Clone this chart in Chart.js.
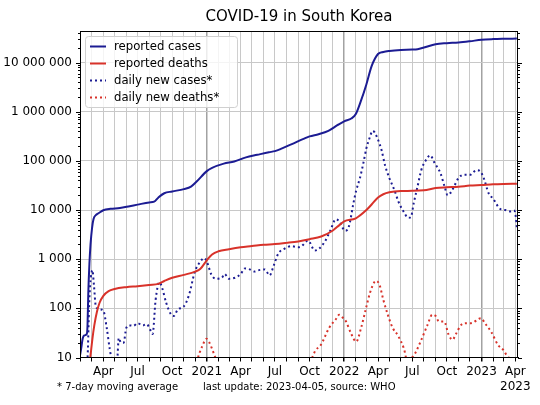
<!DOCTYPE html>
<html>
<head>
<meta charset="utf-8">
<title>COVID-19 in South Korea</title>
<script src="https://cdn.jsdelivr.net/npm/chart.js@4/dist/chart.umd.min.js"></script>
<style>
  html, body { margin: 0; padding: 0; background: #fff; }
</style>
</head>
<body>
<canvas id="covidChart" width="540" height="405"></canvas>
<script>
// values (cumulative + 7-day averages)
const caseDates = ['2020-01-30','2020-02-02','2020-02-06','2020-02-10','2020-02-17','2020-02-19','2020-02-21','2020-02-24','2020-02-27',
  '2020-03-02','2020-03-06','2020-03-12','2020-03-20','2020-04-01','2020-04-20','2020-05-15','2020-06-10','2020-07-01','2020-08-01',
  '2020-08-14','2020-08-25','2020-09-10','2020-10-01','2020-11-01','2020-11-20','2020-12-05',
  '2021-01-01','2021-01-15','2021-02-15','2021-03-15','2021-04-15','2021-05-15','2021-06-15','2021-07-01','2021-07-20','2021-08-15',
  '2021-09-15','2021-10-01','2021-10-25','2021-11-20','2021-12-15',
  '2022-01-01','2022-01-20','2022-02-01','2022-02-15','2022-03-01','2022-03-15','2022-04-01','2022-04-15','2022-05-01','2022-06-01',
  '2022-07-01','2022-07-15','2022-08-01','2022-09-01','2022-10-01','2022-11-01','2022-12-01',
  '2023-01-01','2023-02-01','2023-03-01','2023-04-05'];
const caseValues = [11, 15, 24, 28, 30, 46, 200, 800, 2000,
  4300, 6600, 7900, 8700, 9900, 10600, 11000, 12000, 12900, 14300,
  14800, 17900, 22000, 23900, 26700, 30000, 38000,
  62000, 72000, 88000, 97000, 118000, 133000, 150000, 158000, 180000, 220000,
  280000, 315000, 350000, 410000, 540000,
  640000, 730000, 900000, 1700000, 3600000, 8500000, 15000000, 16500000, 17300000, 18100000,
  18400000, 18800000, 20300000, 23700000, 24900000, 25700000, 27200000,
  29200000, 30100000, 30500000, 30800000];

const deathDates = ['2020-02-20','2020-02-24','2020-02-27','2020-03-03','2020-03-08','2020-03-15','2020-03-22','2020-04-01','2020-04-15',
  '2020-05-01','2020-06-01','2020-07-01','2020-08-01','2020-08-25','2020-09-10','2020-10-01','2020-11-01','2020-12-01','2020-12-15',
  '2021-01-01','2021-01-15','2021-02-01','2021-03-01','2021-04-01','2021-05-01','2021-06-01','2021-07-01','2021-08-01','2021-09-01',
  '2021-10-01','2021-11-01','2021-12-01','2021-12-20',
  '2022-01-01','2022-02-01','2022-03-01','2022-03-15','2022-04-01','2022-04-15','2022-05-01','2022-06-01','2022-07-01','2022-08-01',
  '2022-09-01','2022-10-01','2022-11-01','2022-12-01',
  '2023-01-01','2023-02-01','2023-03-01','2023-04-05'];
const deathValues = [2, 7, 11, 24, 45, 85, 130, 180, 225,
  248, 270, 283, 300, 315, 360, 420, 480, 560, 640,
  950, 1250, 1450, 1600, 1750, 1850, 1970, 2030, 2150, 2300,
  2550, 2900, 3800, 5000,
  5900, 6800, 10000, 13000, 18000, 21000, 23000, 24400, 24600, 25300,
  28000, 29000, 29800, 31500,
  32400, 33500, 34000, 34300];

const newCaseDates = ['2020-02-10','2020-02-16','2020-02-20','2020-02-23','2020-02-26','2020-03-01','2020-03-03','2020-03-07','2020-03-12',
  '2020-03-17','2020-03-24','2020-04-01','2020-04-10','2020-04-18','2020-04-25','2020-05-02','2020-05-08','2020-05-12','2020-05-18',
  '2020-05-25','2020-06-01','2020-06-10','2020-06-20','2020-07-01','2020-07-15','2020-07-25','2020-08-05','2020-08-10','2020-08-18',
  '2020-08-28','2020-09-05','2020-09-15','2020-09-28','2020-10-05','2020-10-16','2020-11-01','2020-11-15','2020-11-30','2020-12-15',
  '2020-12-25',
  '2021-01-01','2021-01-13','2021-01-25','2021-02-10','2021-02-17','2021-03-01','2021-03-17','2021-04-01','2021-04-12','2021-04-25',
  '2021-05-08','2021-05-20','2021-06-04','2021-06-17','2021-06-28','2021-07-10','2021-07-27','2021-08-14','2021-09-01','2021-09-10',
  '2021-09-27','2021-10-15','2021-10-25','2021-11-11','2021-11-25','2021-12-10','2021-12-20',
  '2022-01-03','2022-01-10','2022-01-16','2022-01-25','2022-02-02','2022-02-12','2022-02-21','2022-03-01','2022-03-10','2022-03-18',
  '2022-03-23','2022-04-01','2022-04-10','2022-04-20','2022-05-01','2022-05-15','2022-05-25','2022-06-09','2022-06-20','2022-06-27',
  '2022-07-05','2022-07-15','2022-07-25','2022-08-05','2022-08-18','2022-08-28','2022-09-14','2022-09-25','2022-10-03','2022-10-10',
  '2022-10-20','2022-11-01','2022-11-14','2022-12-01','2022-12-19','2022-12-28',
  '2023-01-06','2023-01-20','2023-02-01','2023-02-20','2023-03-05','2023-03-19','2023-03-28','2023-04-01','2023-04-05'];
const newCaseValues = [2, 3, 15, 100, 300, 550, 600, 300, 110,
  100, 95, 90, 40, 15, 8, 7, 9, 25, 20,
  20, 40, 45, 44, 50, 45, 48, 35, 30, 150,
  340, 250, 130, 75, 70, 95, 110, 190, 550, 900,
  1050,
  900, 490, 400, 420, 500, 400, 420, 500, 650, 620,
  560, 600, 620, 470, 750, 1300, 1650, 1850, 1750, 1850,
  2400, 1500, 1600, 2300, 3800, 6500, 5800,
  3800, 4000, 5500, 13000, 25000, 45000, 90000, 180000, 300000, 410000,
  380000, 270000, 170000, 80000, 45000, 25000, 15000, 9000, 7000, 7100,
  14000, 30000, 65000, 100000, 130000, 95000, 56000, 30000, 20000, 22000,
  30000, 45000, 52000, 52000, 65000, 62000,
  47000, 22000, 17000, 10500, 10000, 9400, 9800, 8500, 4400];

const newDeathDates = ['2020-03-01','2020-04-01','2020-05-01','2020-08-01','2020-09-10','2020-10-15','2020-11-15','2020-12-05','2020-12-12',
  '2020-12-20','2020-12-31',
  '2021-01-08','2021-01-18','2021-01-26','2021-02-10','2021-04-01','2021-06-01','2021-08-01','2021-08-20','2021-09-10','2021-10-04',
  '2021-10-17','2021-10-31','2021-11-22','2021-12-10','2021-12-19','2021-12-28',
  '2022-01-06','2022-01-20','2022-02-02','2022-02-15','2022-02-28','2022-03-10','2022-03-22','2022-03-28','2022-04-05','2022-04-15',
  '2022-04-27','2022-05-10','2022-05-24','2022-06-09','2022-06-17','2022-07-05','2022-07-23','2022-08-10','2022-08-23','2022-09-01',
  '2022-09-10','2022-09-24','2022-10-05','2022-10-16','2022-10-25','2022-11-08','2022-11-21','2022-12-04','2022-12-31',
  '2023-01-10','2023-01-27','2023-02-14','2023-03-01','2023-03-09','2023-03-23','2023-04-05'];
const newDeathValues = [2, 5, 1.5, 1, 3, 2, 3, 8, 12,
  17, 24,
  20, 13, 9, 5, 2, 2, 4, 10, 8, 9,
  14, 18, 40, 60, 74, 65,
  54, 30, 21, 40, 100, 200, 340, 360, 300, 150,
  74, 40, 28, 15, 9, 11, 21, 45, 74, 70,
  54, 54, 30, 23, 30, 46, 50, 50, 63,
  50, 33, 18, 14, 11, 9, 7];

const yDecades = [10, 100, 1000, 10000, 100000, 1000000, 10000000];
const monthNames = ['Jan','Feb','Mar','Apr','May','Jun','Jul','Aug','Sep','Oct','Nov','Dec'];

const FONT = 'DejaVu Sans';
const BLUE = '#1c1c93';
const RED = '#d8322a';

const EPOCH = Date.UTC(2020, 0, 1);
const dayNum = s => (Date.UTC(+s.slice(0, 4), +s.slice(5, 7) - 1, +s.slice(8, 10)) - EPOCH) / 86400000;
const dayDate = d => new Date(EPOCH + d * 86400000);
const toPoints = (dates, values) => dates.map((d, i) => ({ x: dayNum(d), y: values[i] }));

// one tick per month start
const monthTicks = [];
for (let y = 2020; y <= 2023; y++) {
    for (let m = 0; m < 12; m++) {
        const v = (Date.UTC(y, m, 1) - EPOCH) / 86400000;
        if (v >= dayNum('2020-02-01') && v <= dayNum('2023-04-01')) monthTicks.push(v);
    }
}
const lastTick = monthTicks[monthTicks.length - 1];
const isYearStart = v => dayDate(v).getUTCMonth() === 0;

function monthLabel(v) {
    const d = dayDate(v);
    const m = d.getUTCMonth();
    if (m === 0) return String(d.getUTCFullYear());
    if (m % 3 !== 0) return '';
    if (v === lastTick) return [monthNames[m], String(d.getUTCFullYear())];
    return monthNames[m];
}

const spaced = v => String(v).replace(/\B(?=(\d{3})+(?!\d))/g, ' ');

// frame + log minor ticks on both sides
const framePlugin = {
    id: 'frame',
    afterDatasetsDraw(chart) {
        const { ctx, chartArea: a } = chart;
        const ys = chart.scales.y;
        ctx.save();
        ctx.strokeStyle = '#000';
        ctx.lineWidth = 1;
        ctx.strokeRect(Math.round(a.left) + 0.5, Math.round(a.top) + 0.5,
            Math.round(a.right - a.left) - 1, Math.round(a.bottom - a.top) - 1);
        ctx.beginPath();
        for (let e = 1; e <= 7; e++) {
            for (let m = 1; m <= 9; m++) {
                const v = m * Math.pow(10, e);
                if (v > ys.max) break;
                const p = Math.round(ys.getPixelForValue(v)) + 0.5;
                const len = m === 1 ? 4 : 2;
                ctx.moveTo(a.left - len, p); ctx.lineTo(a.left, p);
                ctx.moveTo(a.right, p); ctx.lineTo(a.right + len, p);
            }
        }
        ctx.stroke();
        ctx.restore();
    }
};

const textPlugin = {
    id: 'texts',
    afterDraw(chart) {
        const ctx = chart.ctx;
        const a = chart.chartArea;
        ctx.save();
        ctx.fillStyle = '#000';
        ctx.textBaseline = 'middle';
        ctx.textAlign = 'center';
        ctx.font = '15px "' + FONT + '"';
        ctx.fillText('COVID-19 in South Korea', (a.left + a.right) / 2, 17);

        ctx.textAlign = 'left';
        ctx.font = '10px "' + FONT + '"';
        ctx.fillText('* 7-day moving average', 57, 387);
        ctx.fillText('last update: 2023-04-05, source: WHO', 203, 387);

        // legend box
        const bx = 85.5, by = 36.5, bw = 152, bh = 71;
        ctx.beginPath();
        ctx.roundRect(bx, by, bw, bh, 3);
        ctx.fillStyle = 'rgba(255,255,255,0.8)';
        ctx.fill();
        ctx.strokeStyle = '#d0d0d0';
        ctx.lineWidth = 1;
        ctx.stroke();

        ctx.font = '11.7px "' + FONT + '"';
        chart.data.datasets.forEach((ds, i) => {
            const y = 46.5 + i * 17;
            ctx.strokeStyle = ds.borderColor;
            ctx.lineWidth = 2;
            ctx.setLineDash(ds.borderDash || []);
            ctx.beginPath();
            ctx.moveTo(90, y);
            ctx.lineTo(106, y);
            ctx.stroke();
            ctx.setLineDash([]);
            ctx.fillStyle = '#000';
            ctx.fillText(ds.label, 114, y);
        });
        ctx.restore();
    }
};

const lineStyle = {
    pointRadius: 0,
    borderWidth: 2,
    cubicInterpolationMode: 'monotone',
    fill: false,
    clip: 0
};

const chart = new Chart(document.getElementById('covidChart'), {
    type: 'line',
    data: {
        datasets: [
            { ...lineStyle, label: 'reported cases', data: toPoints(caseDates, caseValues), borderColor: BLUE },
            { ...lineStyle, label: 'reported deaths', data: toPoints(deathDates, deathValues), borderColor: RED },
            { ...lineStyle, label: 'daily new cases*', data: toPoints(newCaseDates, newCaseValues), borderColor: BLUE, borderDash: [2, 3] },
            { ...lineStyle, label: 'daily new deaths*', data: toPoints(newDeathDates, newDeathValues), borderColor: RED, borderDash: [2, 3] }
        ]
    },
    options: {
        responsive: false,
        animation: false,
        layout: { padding: { top: 31, right: 22, bottom: 0, left: 0 } },
        plugins: {
            legend: { display: false },
            title: { display: false },
            tooltip: { enabled: false }
        },
        scales: {
            x: {
                type: 'linear',
                min: dayNum('2020-01-30'),
                max: dayNum('2023-04-08'),
                afterBuildTicks: scale => { scale.ticks = monthTicks.map(v => ({ value: v })); },
                afterFit: scale => { scale.height = 47.5; },
                grid: {
                    color: c => (c.tick && isYearStart(c.tick.value)) ? '#a2a2a2' : '#c8c8c8',
                    lineWidth: c => (c.tick && isYearStart(c.tick.value)) ? 1.5 : 1,
                    tickColor: '#000',
                    tickLength: 4
                },
                border: { color: '#000' },
                ticks: {
                    autoSkip: false,
                    maxRotation: 0,
                    padding: 3,
                    color: '#000',
                    font: { family: FONT, size: 12, lineHeight: 1.25 },
                    callback: v => monthLabel(v)
                }
            },
            y: {
                type: 'logarithmic',
                min: 10,
                max: 44000000,
                afterBuildTicks: scale => { scale.ticks = yDecades.map(v => ({ value: v, major: true })); },
                afterFit: scale => { scale.width = 80; },
                grid: { color: '#c8c8c8', drawTicks: false },
                border: { color: '#000' },
                ticks: {
                    padding: 8,
                    color: '#000',
                    font: { family: FONT, size: 12 },
                    callback: v => spaced(v)
                }
            }
        }
    },
    plugins: [framePlugin, textPlugin]
});
</script>
</body>
</html>
